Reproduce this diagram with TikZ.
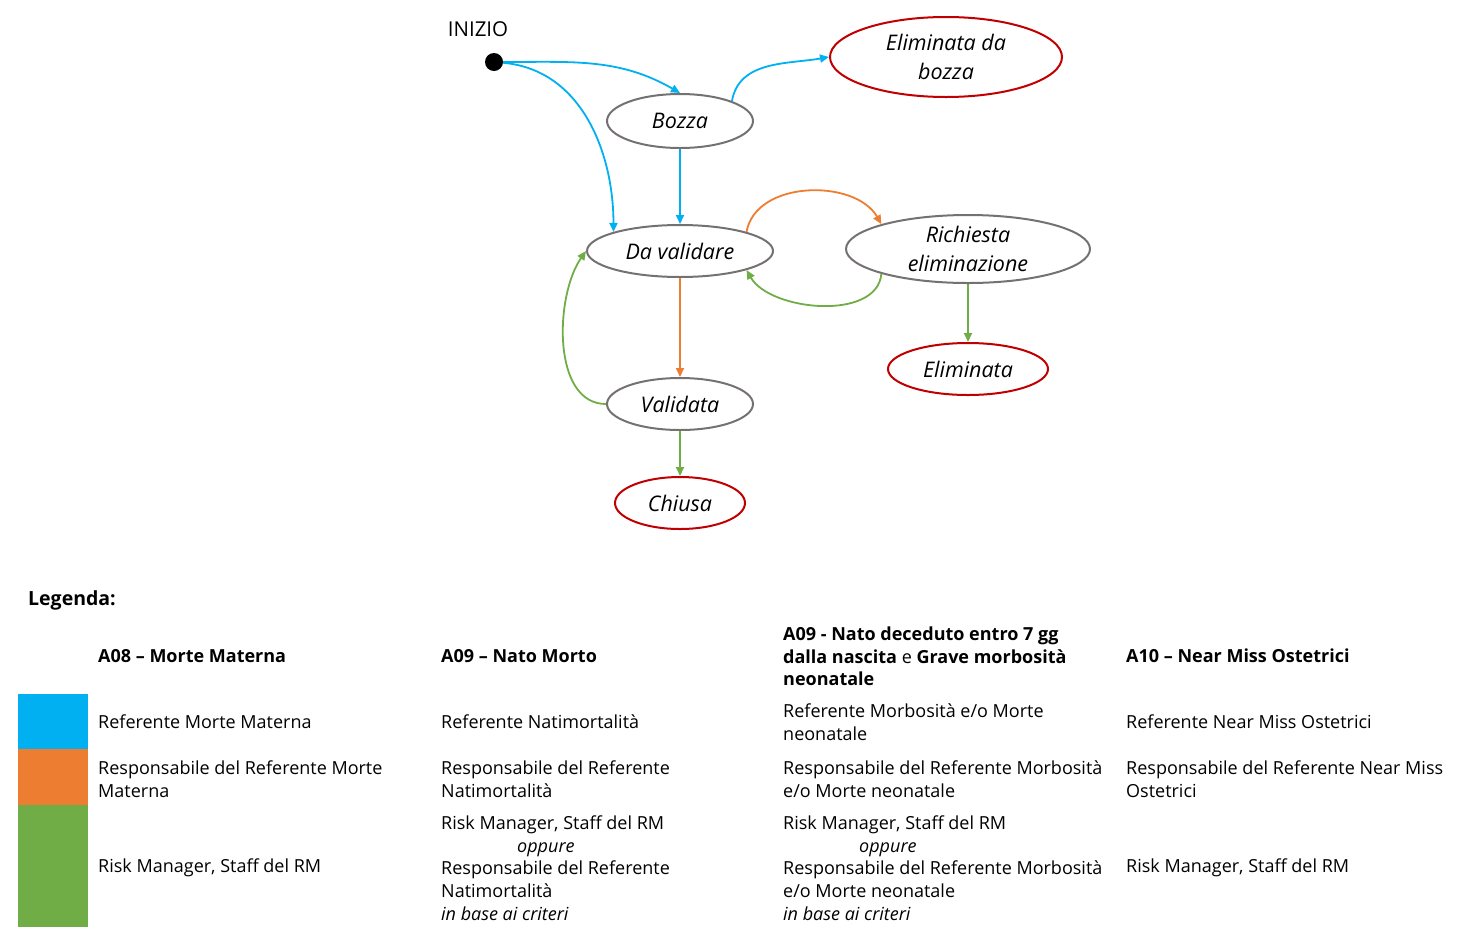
\documentclass[tikz,border=0pt]{standalone}
\usepackage{fontspec}
\setmainfont{Open Sans}
\usetikzlibrary{shapes.geometric,arrows.meta}

\definecolor{blu}{HTML}{00B0F0}
\definecolor{arancio}{HTML}{ED7D31}
\definecolor{verde}{HTML}{70AD47}
\definecolor{rosso}{HTML}{C00000}
\definecolor{grigio}{HTML}{767171}

\begin{document}
\begin{tikzpicture}[x=1pt,y=-1pt,
		stato/.style={ellipse,draw=grigio,line width=2pt,inner sep=0pt,align=center,
			font=\fontsize{21.5}{29}\selectfont\itshape},
		finale/.style={stato,draw=rosso},
		freccia/.style={line width=1.8pt,-{Triangle[length=9pt,width=8pt]}},
		legtxt/.style={anchor=west,align=left,inner sep=0pt,font=\fontsize{18}{22.7}\selectfont},
		legtit/.style={legtxt,font=\fontsize{18}{22.7}\selectfont\bfseries}]
		\useasboundingbox (0,0) rectangle (1461,951);

		% Stati
		\node[circle,fill=black,minimum size=18pt,inner sep=0pt] (inizio) at (494,62) {};
		\node[font=\fontsize{20.5}{24}\selectfont] (lblinizio) at (478,29) {INIZIO};
		\node[stato,minimum width=146pt,minimum height=54pt] (bozza) at (680,121) {Bozza};
		\node[finale,minimum width=232pt,minimum height=80pt] (elimb) at (946,57) {Eliminata da\\bozza};
		\node[stato,minimum width=186pt,minimum height=52pt] (dav) at (680,251) {Da validare};
		\node[stato,minimum width=244pt,minimum height=68pt] (rich) at (968,249) {Richiesta\\eliminazione};
		\node[finale,minimum width=160pt,minimum height=52pt] (elim) at (968,369) {Eliminata};
		\node[stato,minimum width=146pt,minimum height=52pt] (val) at (680,404) {Validata};
		\node[finale,minimum width=130pt,minimum height=52pt] (chiusa) at (680,503) {Chiusa};

		% Transizioni
		\draw[freccia,blu] (inizio) to[out=0,in=150] (bozza.north);
		\draw[freccia,blu] (inizio) to[out=-5,in=90] (dav.164);
		\draw[freccia,blu] (bozza.21) to[out=80,in=190] (elimb.west);
		\draw[freccia,blu] (bozza) -- (dav);
		\draw[freccia,arancio] (dav.16) to[out=80,in=120] (rich.164);
		\draw[freccia,verde] (rich.196) to[out=-95,in=-60,looseness=0.9] (dav.344);
		\draw[freccia,arancio] (dav) -- (val);
		\draw[freccia,verde] (rich) -- (elim);
		\draw[freccia,verde] (val.west) to[out=180,in=-125,looseness=0.9] (dav.west);
		\draw[freccia,verde] (val) -- (chiusa);

		% Legenda
		\node[legtit,font=\fontsize{19.5}{24}\selectfont\bfseries] (legenda) at (28,600) {Legenda:};
		\fill[blu] (18,694) rectangle (88,749);
		\fill[arancio] (18,749) rectangle (88,805);
		\fill[verde] (18,805) rectangle (88,927);

		\node[legtit] (tita) at (98,656) {A08 – Morte Materna};
		\node[legtit] (titb) at (441,656) {A09 – Nato Morto};
		\node[legtit] (titc) at (783,656.5) {A09 - Nato deceduto entro 7 gg\\dalla nascita {\mdseries e} Grave morbosità\\neonatale};
		\node[legtit] (titd) at (1126,656) {A10 – Near Miss Ostetrici};

		\node[legtxt] (bluA) at (98,722) {Referente Morte Materna};
		\node[legtxt] (bluB) at (441,722) {Referente Natimortalità};
		\node[legtxt] (bluC) at (783,722.5) {Referente Morbosità e/o Morte\\neonatale};
		\node[legtxt] (bluD) at (1126,722) {Referente Near Miss Ostetrici};

		\node[legtxt] (aranA) at (98,779.5) {Responsabile del Referente Morte\\Materna};
		\node[legtxt] (aranB) at (441,779.5) {Responsabile del Referente\\Natimortalità};
		\node[legtxt] (aranC) at (783,779.5) {Responsabile del Referente Morbosità\\e/o Morte neonatale};
		\node[legtxt] (aranD) at (1126,779.5) {Responsabile del Referente Near Miss\\Ostetrici};

		\node[legtxt] (verA) at (98,868) {Risk Manager, Staff del RM};
		\node[legtxt] (verB) at (441,868) {Risk Manager, Staff del RM\\\hspace*{76pt}\textit{oppure}\\Responsabile del Referente\\Natimortalità\\\textit{in base ai criteri}};
		\node[legtxt] (verC) at (783,868) {Risk Manager, Staff del RM\\\hspace*{76pt}\textit{oppure}\\Responsabile del Referente Morbosità\\e/o Morte neonatale\\\textit{in base ai criteri}};
		\node[legtxt] (verD) at (1126,868) {Risk Manager, Staff del RM};
	\end{tikzpicture}
\end{document}
